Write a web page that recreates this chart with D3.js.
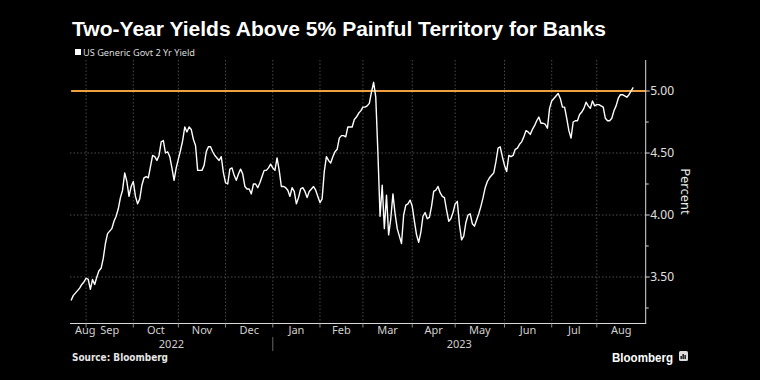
<!DOCTYPE html>
<html><head><meta charset="utf-8">
<script src="https://cdn.jsdelivr.net/npm/d3@7"></script>
<style>html,body{margin:0;padding:0;background:#000;overflow:hidden} svg{display:block}</style>
</head><body><svg id="c" width="760" height="380"></svg>
<script>
// ---- data ----
const title = "Two-Year Yields Above 5% Painful Territory for Banks";
const seriesName = "US Generic Govt 2 Yr Yield";
const source = "Source: Bloomberg";
const yAxisTitle = "Percent";
const startDate = "2022-08-23";   // first trading day shown
const axisEndDate = "2023-08-31"; // right end of the time axis
const monthNames = ["Jan","Feb","Mar","Apr","May","Jun","Jul","Aug","Sep","Oct","Nov","Dec"];
const yTicks = [3.5, 4.0, 4.5, 5.0];
const yMinorTicks = [3.25, 3.75, 4.25, 4.75];
const threshold = 5.0;
const yDomain = [3.125, 5.25];
// daily (weekday) yields, %
const yields = [
3.31,3.35,3.37,3.39,3.41,3.44,3.46,3.49,3.48,3.40,
3.48,3.44,3.50,3.55,3.57,3.65,3.77,3.85,3.87,3.89,
3.95,3.99,4.05,4.14,4.20,4.34,4.27,4.15,4.23,4.27,
4.15,4.09,4.13,4.24,4.30,4.31,4.30,4.39,4.48,4.47,
4.44,4.48,4.59,4.60,4.50,4.51,4.47,4.38,4.28,4.38,
4.45,4.52,4.60,4.71,4.67,4.71,4.69,4.61,4.56,4.36,
4.36,4.36,4.40,4.51,4.55,4.55,4.51,4.48,4.46,4.44,
4.47,4.34,4.26,4.25,4.37,4.38,4.32,4.28,4.33,4.37,
4.33,4.23,4.21,4.21,4.17,4.25,4.25,4.22,4.26,4.31,
4.36,4.36,4.38,4.41,4.38,4.36,4.46,4.36,4.23,4.23,
4.22,4.20,4.15,4.22,4.19,4.09,4.14,4.21,4.22,4.19,
4.14,4.19,4.21,4.23,4.20,4.15,4.10,4.13,4.35,4.47,
4.44,4.42,4.47,4.51,4.53,4.62,4.64,4.64,4.63,4.71,
4.71,4.71,4.77,4.79,4.82,4.84,4.87,4.87,4.88,4.90,
4.99,5.07,4.95,4.50,3.99,4.24,3.89,4.16,3.84,3.97,
4.17,4.01,3.89,3.83,3.77,4.00,4.08,4.09,4.12,4.07,
3.95,3.84,3.78,3.86,3.99,4.02,3.97,3.98,4.07,4.19,
4.20,4.23,4.18,4.15,4.14,4.04,3.95,3.97,4.02,4.09,
4.11,3.92,3.80,3.83,3.94,4.00,4.01,3.93,3.91,3.96,
4.01,4.07,4.14,4.22,4.27,4.30,4.32,4.34,4.43,4.54,
4.55,4.47,4.40,4.35,4.48,4.47,4.48,4.53,4.54,4.57,
4.59,4.63,4.68,4.67,4.65,4.69,4.72,4.76,4.79,4.74,
4.74,4.73,4.70,4.86,4.92,4.94,4.96,4.98,4.94,4.87,
4.87,4.78,4.68,4.62,4.75,4.76,4.76,4.81,4.83,4.86,
4.91,4.88,4.86,4.92,4.88,4.89,4.89,4.88,4.87,4.78,
4.76,4.76,4.78,4.84,4.88,4.94,4.97,4.97,4.96,4.95,
4.97,5.00,5.03
];

// ---- layout ----
const W = 760, H = 380;
const plot = {left: 70, right: 645.7, top: 60, bottom: 323.5};
const svg = d3.select("#c");
svg.append("rect").attr("width", W).attr("height", H).attr("fill", "#000");

// trading days (weekdays) on the axis
const tradingDays = d3.utcDay.range(new Date(startDate + "T00:00:00Z"),
  d3.utcDay.offset(new Date(axisEndDate + "T00:00:00Z"), 1))
  .filter(d => d.getUTCDay() !== 0 && d.getUTCDay() !== 6);
const lastIdx = tradingDays.length - 1;

const x = d3.scaleLinear().domain([-0.5, lastIdx + 0.8]).range([plot.left, plot.right]);
const y = d3.scaleLinear().domain(yDomain).range([plot.bottom, plot.top]);

// month boundaries
const monthStarts = [];
tradingDays.forEach((d, i) => {
  if (i > 0 && d.getUTCMonth() !== tradingDays[i-1].getUTCMonth()) monthStarts.push(i);
});

const gridColor = "#4a4a4a";
// horizontal grid
svg.append("g").selectAll("line").data(yTicks.filter(v => v !== threshold)).join("line")
  .attr("x1", plot.left).attr("x2", plot.right)
  .attr("y1", d => y(d)).attr("y2", d => y(d))
  .attr("stroke", gridColor).attr("stroke-width", 1).attr("stroke-dasharray", "1.5,2");
// vertical grid
svg.append("g").selectAll("line").data(monthStarts).join("line")
  .attr("x1", d => x(d)).attr("x2", d => x(d))
  .attr("y1", plot.top).attr("y2", plot.bottom)
  .attr("stroke", gridColor).attr("stroke-width", 1).attr("stroke-dasharray", "1.5,2");

// threshold line
svg.append("line")
  .attr("x1", x(0)).attr("x2", plot.right)
  .attr("y1", y(threshold)).attr("y2", y(threshold))
  .attr("stroke", "#f0a03c").attr("stroke-width", 2);

// series line
const line = d3.line().x((d, i) => x(i)).y(d => y(d));
svg.append("path").datum(yields)
  .attr("d", line).attr("fill", "none")
  .attr("stroke", "#ffffff").attr("stroke-width", 1.4).attr("stroke-linejoin", "round");

// axes frame
const axisColor = "#d8d8d8";
svg.append("line").attr("x1", plot.left).attr("x2", plot.right + 0.5)
  .attr("y1", plot.bottom).attr("y2", plot.bottom).attr("stroke", axisColor).attr("stroke-width", 1);
svg.append("line").attr("x1", plot.right).attr("x2", plot.right)
  .attr("y1", plot.top).attr("y2", plot.bottom).attr("stroke", axisColor).attr("stroke-width", 1);

// right y axis ticks/labels
const yAxis = svg.append("g");
yAxis.selectAll("line.maj").data(yTicks).join("line").attr("class", "maj")
  .attr("x1", plot.right).attr("x2", plot.right + 4)
  .attr("y1", d => y(d)).attr("y2", d => y(d)).attr("stroke", axisColor);
yAxis.selectAll("line.min").data(yMinorTicks).join("line").attr("class", "min")
  .attr("x1", plot.right).attr("x2", plot.right + 3)
  .attr("y1", d => y(d)).attr("y2", d => y(d)).attr("stroke", axisColor);
yAxis.selectAll("text").data(yTicks).join("text")
  .attr("x", plot.right + 4.5).attr("y", d => y(d)).attr("dy", "0.35em")
  .attr("fill", "#e0e0e0").attr("font-family", "Noto Sans, sans-serif").attr("font-size", 12)
  .text(d => d3.format(".2f")(d));
svg.append("text")
  .attr("transform", `translate(${681},${y(4.19)}) rotate(90)`)
  .attr("text-anchor", "middle").attr("fill", "#e8e8e8")
  .attr("font-family", "Noto Sans, sans-serif").attr("font-size", 13)
  .text(yAxisTitle);

// bottom axis ticks
svg.append("g").selectAll("line").data(monthStarts).join("line")
  .attr("x1", d => x(d)).attr("x2", d => x(d))
  .attr("y1", plot.bottom).attr("y2", plot.bottom + 4).attr("stroke", "#888");

// month labels
const segs = [0, ...monthStarts];
const segEnds = [...monthStarts, x.domain()[1]];
const labelFont = "Noto Sans, sans-serif";
const mLab = svg.append("g");
segs.forEach((s, k) => {
  const x0 = Math.max(x(s === 0 ? -0.5 : s), plot.left);
  const x1 = x(segEnds[k]);
  const t = mLab.append("text")
    .attr("y", 334).attr("text-anchor", "middle")
    .attr("fill", "#d0d0d0").attr("font-family", labelFont).attr("font-size", 11)
    .text(monthNames[tradingDays[s].getUTCMonth()]);
  const w = t.node().getComputedTextLength();
  let cx = (x0 + x1) / 2;
  cx = Math.max(cx, plot.left + 5 + w / 2);
  t.attr("x", cx);
});

// year labels
const years = [];
tradingDays.forEach((d, i) => {
  const yr = d.getUTCFullYear();
  if (!years.length || years[years.length-1].year !== yr) years.push({year: yr, start: i});
});
years.forEach((yy, k) => {
  const x0 = k === 0 ? plot.left : x(yy.start);
  const x1 = k === years.length - 1 ? plot.right : x(years[k+1].start);
  svg.append("text").attr("x", (x0 + x1) / 2).attr("y", 348)
    .attr("text-anchor", "middle").attr("fill", "#d0d0d0")
    .attr("font-family", labelFont).attr("font-size", 11).text(yy.year);
  if (k > 0) {
    svg.append("line").attr("x1", x(yy.start)).attr("x2", x(yy.start))
      .attr("y1", 337).attr("y2", 351).attr("stroke", "#666");
  }
});

// title
svg.append("text").attr("x", 72).attr("y", 36)
  .attr("fill", "#fff").attr("font-family", "Liberation Sans, Arial, sans-serif")
  .attr("font-weight", "bold").attr("font-size", 20)
  .attr("textLength", 534).attr("lengthAdjust", "spacingAndGlyphs").text(title);

// legend
svg.append("rect").attr("x", 75).attr("y", 49).attr("width", 6).attr("height", 6).attr("fill", "#fff");
svg.append("text").attr("x", 83).attr("y", 55.5)
  .attr("fill", "#dcdcdc").attr("font-family", labelFont).attr("font-size", 9.5)
  .attr("textLength", 112).attr("lengthAdjust", "spacingAndGlyphs").text(seriesName);

// footer
svg.append("text").attr("x", 72).attr("y", 361)
  .attr("fill", "#e6e6e6").attr("font-family", "DejaVu Sans, sans-serif")
  .attr("font-weight", "bold").attr("font-size", 10)
  .attr("textLength", 96).attr("lengthAdjust", "spacingAndGlyphs").text(source);
svg.append("text").attr("x", 612).attr("y", 362)
  .attr("fill", "#fff").attr("font-family", "Liberation Sans, Arial, sans-serif")
  .attr("font-weight", "bold").attr("font-size", 13)
  .attr("textLength", 61).attr("lengthAdjust", "spacingAndGlyphs").text("Bloomberg");
const logo = svg.append("g").attr("transform", "translate(679,351)");
logo.append("rect").attr("width", 9).attr("height", 10).attr("rx", 1.5).attr("fill", "#ddd");
[[1.5,5,1.3],[3.5,3,1.3],[5.5,4,1.3]].forEach(b => {
  logo.append("rect").attr("x", b[0]).attr("y", b[1]).attr("width", b[2]).attr("height", 8 - b[1]).attr("fill", "#000");
});
</script></body></html>
